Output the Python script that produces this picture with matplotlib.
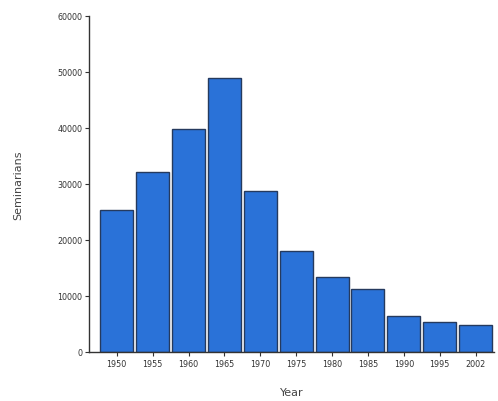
import matplotlib
matplotlib.use("Agg")
import matplotlib.pyplot as plt

years = ["1950", "1955", "1960", "1965", "1970", "1975", "1980", "1985", "1990", "1995", "2002"]
seminarians = [25400, 32100, 39800, 48900, 28700, 18000, 13300, 11200, 6400, 5400, 4800]
yticks = [0, 10000, 20000, 30000, 40000, 50000, 60000]

fig = plt.figure(figsize=(4.98, 4.02), dpi=100)
ax = fig.add_axes([0.179, 0.122, 0.812, 0.836])
x = list(range(len(years)))
ax.bar(x, seminarians, width=0.92, color="#2a72d8", edgecolor="#253a5e", linewidth=1.0)
ax.set_xlim(-0.77, 10.5)
ax.set_ylim(0, 60000)
ax.set_yticks(yticks)
ax.set_yticklabels([str(v) for v in yticks])
ax.set_xticks(x)
ax.set_xticklabels(years)
for s in ["top", "right"]:
    ax.spines[s].set_visible(False)
for s in ["left", "bottom"]:
    ax.spines[s].set_color("#333333")
    ax.spines[s].set_linewidth(1.0)
ax.tick_params(axis="both", labelsize=5.8, colors="#333333", length=3, width=0.8, pad=2)
ax.set_ylabel("Seminarians", fontsize=8, color="#444444", labelpad=24)
ax.set_xlabel("Year", fontsize=8, color="#444444", labelpad=14)
fig.savefig("out.png", dpi=100)
